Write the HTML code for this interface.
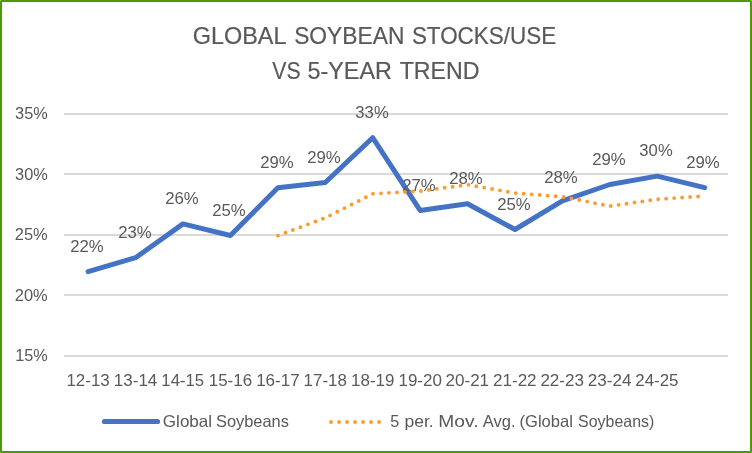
<!DOCTYPE html>
<html lang="en">
<head>
<meta charset="utf-8">
<title>Global Soybean Stocks/Use vs 5-Year Trend</title>
<style>
html,body{margin:0;padding:0;background:#fff;}
body{width:752px;height:453px;overflow:hidden;}
#chart{position:absolute;left:0;top:0;width:752px;height:453px;box-sizing:border-box;border:2px solid #4F9A00;background:#fff;}
svg{position:absolute;left:0;top:0;display:block;}
</style>
</head>
<body>
<div id="chart"></div>
<svg width="752" height="453" viewBox="0 0 752 453">
<rect x="64" y="113" width="664" height="2" fill="#D9D9D9"/>
<rect x="64" y="173" width="664" height="2" fill="#D9D9D9"/>
<rect x="64" y="234" width="664" height="2" fill="#D9D9D9"/>
<rect x="64" y="294" width="664" height="2" fill="#D9D9D9"/>
<rect x="64" y="355" width="664" height="2" fill="#D9D9D9"/>
<path d="M88.11,271.60 L135.54,257.70 L182.97,223.90 L230.40,235.50 L277.83,187.80 L325.26,182.55 L372.69,137.70 L420.11,210.40 L467.54,203.70 L514.97,229.50 L562.40,200.90 L609.83,184.50 L657.26,176.10 L704.69,187.60" fill="none" stroke="#4472C4" stroke-width="5" stroke-linecap="round" stroke-linejoin="round"/>
<g fill="#595959" font-family="'Liberation Sans', Arial, sans-serif">
<text x="192.82" y="43.50" font-size="23.6" textLength="93.65" lengthAdjust="spacingAndGlyphs" stroke="#595959" stroke-width="0.2">GLOBAL</text>
<text x="294.16" y="43.50" font-size="23.6" textLength="110.30" lengthAdjust="spacingAndGlyphs" stroke="#595959" stroke-width="0.2">SOYBEAN</text>
<text x="411.88" y="43.50" font-size="23.6" textLength="144.28" lengthAdjust="spacingAndGlyphs" stroke="#595959" stroke-width="0.2">STOCKS/USE</text>
<text x="272.31" y="78.50" font-size="23.6" textLength="28.27" lengthAdjust="spacingAndGlyphs" stroke="#595959" stroke-width="0.2">VS</text>
<text x="307.46" y="78.50" font-size="23.6" textLength="84.52" lengthAdjust="spacingAndGlyphs" stroke="#595959" stroke-width="0.2">5-YEAR</text>
<text x="399.68" y="78.50" font-size="23.6" textLength="79.93" lengthAdjust="spacingAndGlyphs" stroke="#595959" stroke-width="0.2">TREND</text>
<text x="15.06" y="119.00" font-size="16.5" textLength="32.71" lengthAdjust="spacingAndGlyphs">35%</text>
<text x="15.06" y="180.00" font-size="16.5" textLength="32.71" lengthAdjust="spacingAndGlyphs">30%</text>
<text x="14.82" y="240.00" font-size="16.5" textLength="32.95" lengthAdjust="spacingAndGlyphs">25%</text>
<text x="14.82" y="301.00" font-size="16.5" textLength="32.95" lengthAdjust="spacingAndGlyphs">20%</text>
<text x="15.20" y="361.00" font-size="16.5" textLength="32.56" lengthAdjust="spacingAndGlyphs">15%</text>
<text x="66.46" y="385.80" font-size="16.5" textLength="43.27" lengthAdjust="spacingAndGlyphs">12-13</text>
<text x="113.88" y="385.80" font-size="16.5" textLength="43.43" lengthAdjust="spacingAndGlyphs">13-14</text>
<text x="161.33" y="385.80" font-size="16.5" textLength="42.82" lengthAdjust="spacingAndGlyphs">14-15</text>
<text x="208.74" y="385.80" font-size="16.5" textLength="43.33" lengthAdjust="spacingAndGlyphs">15-16</text>
<text x="256.17" y="385.80" font-size="16.5" textLength="43.50" lengthAdjust="spacingAndGlyphs">16-17</text>
<text x="303.60" y="385.80" font-size="16.5" textLength="43.22" lengthAdjust="spacingAndGlyphs">17-18</text>
<text x="351.03" y="385.80" font-size="16.5" textLength="43.40" lengthAdjust="spacingAndGlyphs">18-19</text>
<text x="398.45" y="385.80" font-size="16.5" textLength="43.42" lengthAdjust="spacingAndGlyphs">19-20</text>
<text x="445.54" y="385.80" font-size="16.5" textLength="43.57" lengthAdjust="spacingAndGlyphs">20-21</text>
<text x="492.97" y="385.80" font-size="16.5" textLength="43.64" lengthAdjust="spacingAndGlyphs">21-22</text>
<text x="540.40" y="385.80" font-size="16.5" textLength="43.62" lengthAdjust="spacingAndGlyphs">22-23</text>
<text x="587.83" y="385.80" font-size="16.5" textLength="43.77" lengthAdjust="spacingAndGlyphs">23-24</text>
<text x="635.27" y="385.80" font-size="16.5" textLength="43.18" lengthAdjust="spacingAndGlyphs">24-25</text>
<text x="70.16" y="252.00" font-size="16.5" textLength="33.54" lengthAdjust="spacingAndGlyphs">22%</text>
<text x="118.16" y="238.00" font-size="16.5" textLength="33.54" lengthAdjust="spacingAndGlyphs">23%</text>
<text x="165.16" y="204.00" font-size="16.5" textLength="33.54" lengthAdjust="spacingAndGlyphs">26%</text>
<text x="212.16" y="216.00" font-size="16.5" textLength="33.54" lengthAdjust="spacingAndGlyphs">25%</text>
<text x="260.16" y="168.00" font-size="16.5" textLength="33.54" lengthAdjust="spacingAndGlyphs">29%</text>
<text x="307.16" y="163.00" font-size="16.5" textLength="33.54" lengthAdjust="spacingAndGlyphs">29%</text>
<text x="355.37" y="118.00" font-size="16.5" textLength="33.33" lengthAdjust="spacingAndGlyphs">33%</text>
<text x="402.16" y="191.00" font-size="16.5" textLength="33.54" lengthAdjust="spacingAndGlyphs">27%</text>
<text x="449.16" y="184.00" font-size="16.5" textLength="33.54" lengthAdjust="spacingAndGlyphs">28%</text>
<text x="497.16" y="210.00" font-size="16.5" textLength="33.54" lengthAdjust="spacingAndGlyphs">25%</text>
<text x="544.16" y="183.00" font-size="16.5" textLength="33.54" lengthAdjust="spacingAndGlyphs">28%</text>
<text x="592.16" y="165.00" font-size="16.5" textLength="33.54" lengthAdjust="spacingAndGlyphs">29%</text>
<text x="639.37" y="156.00" font-size="16.5" textLength="33.33" lengthAdjust="spacingAndGlyphs">30%</text>
<text x="686.16" y="168.00" font-size="16.5" textLength="33.54" lengthAdjust="spacingAndGlyphs">29%</text>
<text x="162.84" y="426.60" font-size="16.5" textLength="49.30" lengthAdjust="spacingAndGlyphs">Global</text>
<text x="215.96" y="426.60" font-size="16.5" textLength="72.94" lengthAdjust="spacingAndGlyphs">Soybeans</text>
<text x="390.35" y="426.60" font-size="16.5" textLength="9.03" lengthAdjust="spacingAndGlyphs">5</text>
<text x="404.51" y="426.60" font-size="16.5" textLength="29.24" lengthAdjust="spacingAndGlyphs">per.</text>
<text x="438.28" y="426.60" font-size="16.5" textLength="40.22" lengthAdjust="spacingAndGlyphs">Mov.</text>
<text x="482.67" y="426.60" font-size="16.5" textLength="32.83" lengthAdjust="spacingAndGlyphs">Avg.</text>
<text x="519.57" y="426.60" font-size="16.5" textLength="53.33" lengthAdjust="spacingAndGlyphs">(Global</text>
<text x="578.08" y="426.60" font-size="16.5" textLength="76.21" lengthAdjust="spacingAndGlyphs">Soybeans)</text>
</g>
<path d="M277.93,235.60 L325.36,217.79 L372.79,193.79 L420.21,191.09 L467.64,184.73 L515.07,193.07 L562.50,196.74 L609.93,206.10 L657.36,199.24 L704.79,196.02" fill="none" stroke="#FF9A2E" stroke-width="3.9" stroke-linecap="round" stroke-linejoin="round" stroke-dasharray="0 8"/>
<path d="M104.5,421.5 L157.5,421.5" fill="none" stroke="#4472C4" stroke-width="5.2" stroke-linecap="round"/>
<path d="M331,422 L380,422" fill="none" stroke="#FF9A2E" stroke-width="3.9" stroke-linecap="round" stroke-dasharray="0 8"/>
<rect x="0" y="0" width="1" height="1" fill="#A5CD78"/>
<rect x="751" y="0" width="1" height="1" fill="#A5CD78"/>
<rect x="0" y="452" width="1" height="1" fill="#78AF3C"/>
<rect x="751" y="452" width="1" height="1" fill="#6EAA32"/>
</svg>
</body>
</html>
